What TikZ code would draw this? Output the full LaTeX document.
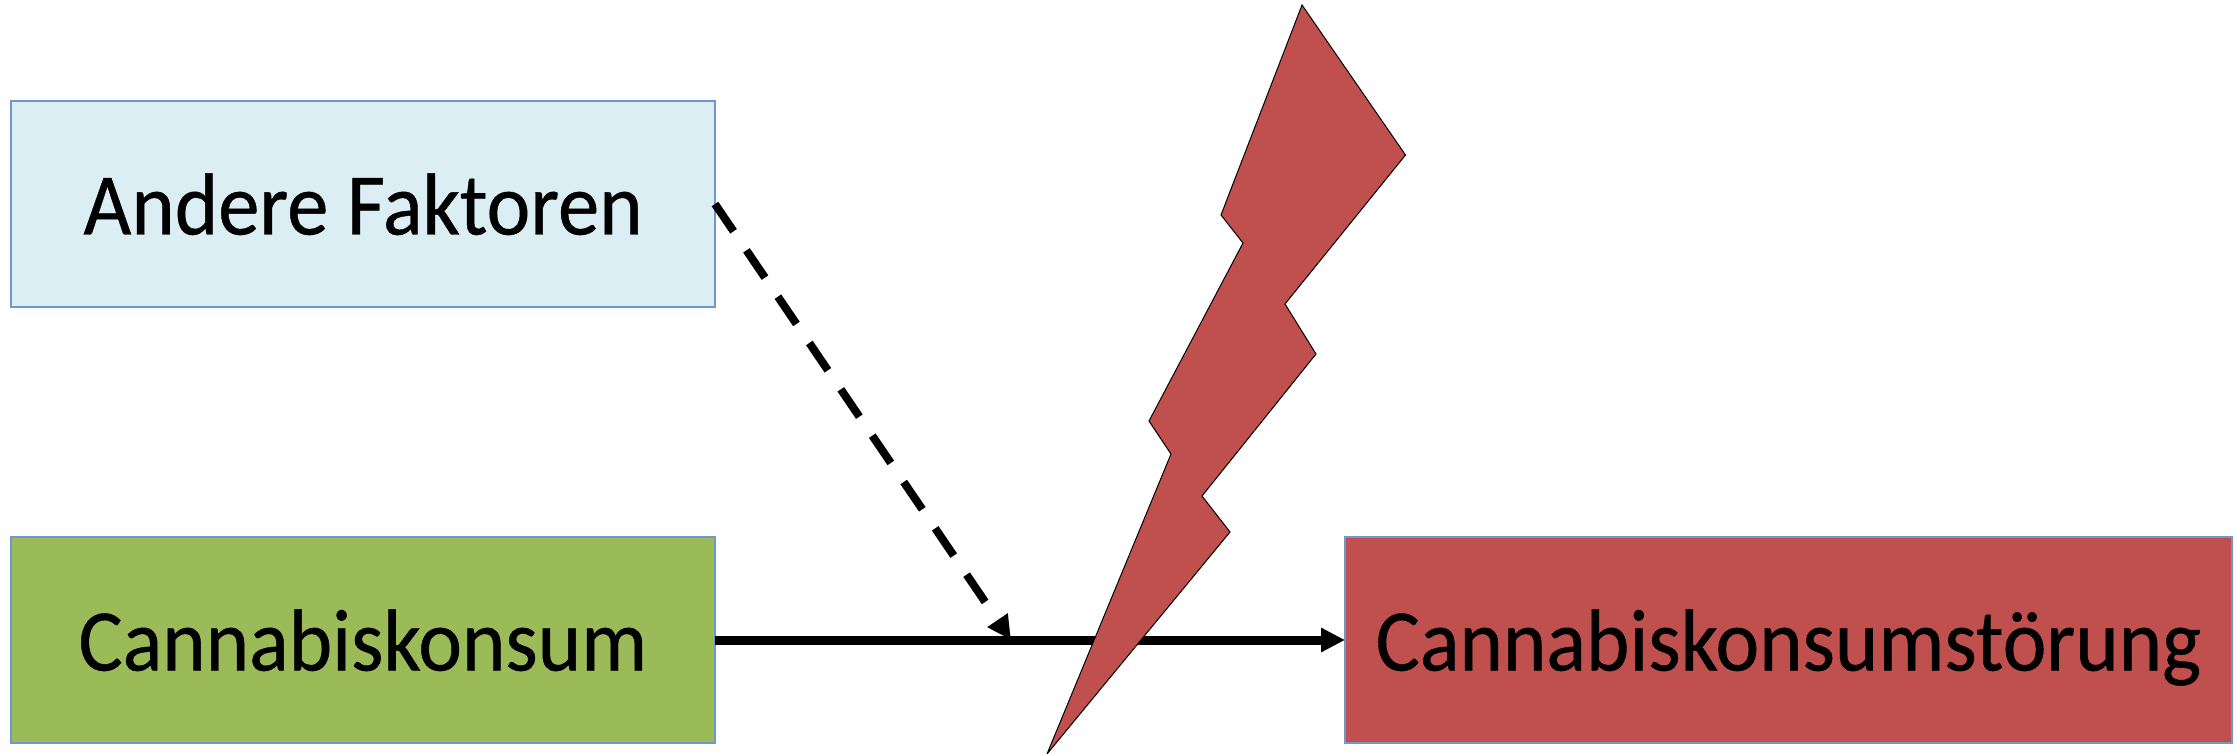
\documentclass[tikz,border=0pt]{standalone}
\usepackage{fontspec}
\setmainfont[FakeStretch=0.94,FakeBold=0.5]{Carlito}
\usetikzlibrary{arrows.meta}
\definecolor{boxline}{HTML}{7096CC}
\definecolor{paleblue}{HTML}{DBEEF4}
\definecolor{leaf}{HTML}{9BBB59}
\definecolor{brick}{HTML}{C0504D}
\tikzset{
  x=1pt,y=-1pt,
  boxnode/.style={draw=boxline,line width=2pt,inner sep=0pt,outer sep=0pt,
    minimum height=206pt,text height=61pt,text depth=0pt,
    font=\fontsize{88}{88}\selectfont,text=black},
  headtip/.style={-{Triangle[length=24pt,width=23pt]}},
  link/.style={draw=black,line width=9pt,headtip},
  dashlink/.style={link,line width=8pt,dash pattern=on 33pt off 23pt},
  bolt/.style={draw=black,line width=1pt,fill=brick,line join=miter}
}
\begin{document}
\begin{tikzpicture}
\useasboundingbox (0,0) rectangle (2236,754);
\node[boxnode,fill=paleblue,minimum width=704pt] (other) at (363,204) {Andere Faktoren};
\node[boxnode,fill=leaf,minimum width=704pt] (use) at (363,640) {Cannabiskonsum};
\node[boxnode,fill=brick,minimum width=887pt] (disorder) at (1788.5,640) {Cannabiskonsumstörung};
\coordinate (target) at (1011,640);
\draw[dashlink] (other.east) -- (target);
\draw[link] (use.east) -- (disorder.west);
\draw[bolt] (1302,5) -- (1405.5,155) -- (1285,304) -- (1316,354) -- (1202,496) -- (1230,532) -- (1047,754) -- (1171,454) -- (1149,421) -- (1243,243) -- (1221,215) -- cycle;
\end{tikzpicture}
\end{document}
